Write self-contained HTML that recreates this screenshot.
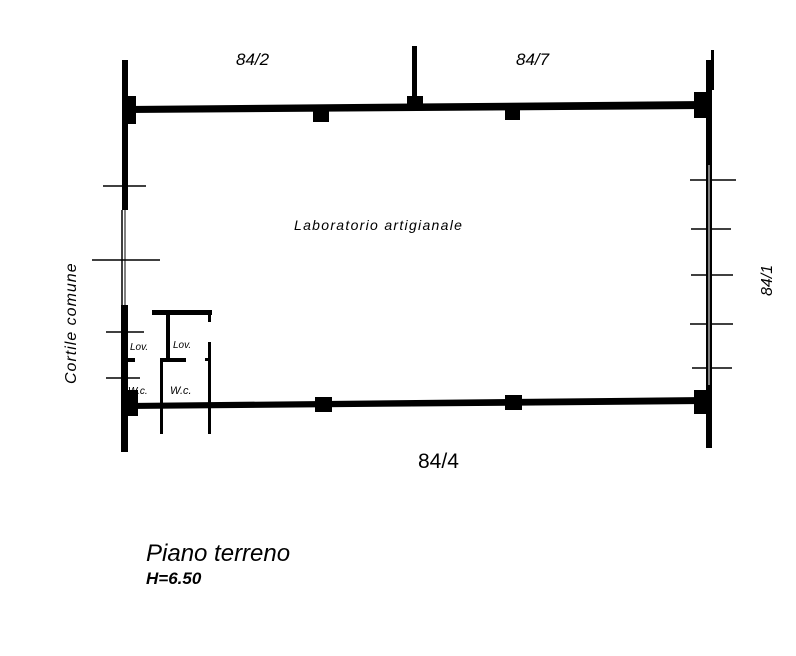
<!DOCTYPE html>
<html><head><meta charset="utf-8"><style>
html,body{margin:0;padding:0;background:#fff;width:796px;height:656px;overflow:hidden}
svg{display:block}
text{font-family:"Liberation Sans",sans-serif;fill:#000}
</style></head><body>
<svg width="796" height="656" viewBox="0 0 796 656" xmlns="http://www.w3.org/2000/svg">
<g fill="#000" stroke="none">
<polygon points="128,106 705,101 705,109 128,113"/>
<polygon points="128,403 705,397 705,404 128,409"/>
<rect x="122" y="60" width="6" height="150"/>
<rect x="121" y="305" width="7" height="147"/>
<rect x="124" y="96" width="12" height="28"/>
<rect x="124" y="390" width="14" height="26"/>
<rect x="706" y="60" width="6" height="388"/>
<rect x="694" y="92" width="16" height="26"/>
<rect x="694" y="390" width="16" height="24"/>
<rect x="711" y="50" width="3" height="40"/>
<rect x="412" y="46" width="5" height="60"/>
<rect x="407" y="96" width="16" height="14"/>
<rect x="313" y="108" width="16" height="14"/>
<rect x="505" y="106" width="15" height="14"/>
<rect x="315" y="397" width="17" height="15"/>
<rect x="505" y="395" width="17" height="15"/>
<rect x="152" y="310" width="60" height="5"/>
<rect x="166" y="312" width="4" height="48"/>
<rect x="160" y="358" width="26" height="4"/>
<rect x="160" y="358" width="3" height="76"/>
<rect x="208" y="342" width="3" height="92"/>
<rect x="208" y="312" width="3" height="10"/>
<rect x="205" y="358" width="6" height="3"/>
<rect x="121" y="358" width="14" height="4"/>
</g>
<g stroke="#000" stroke-width="1.5" fill="none">
<line x1="122" y1="210" x2="122" y2="305"/>
<line x1="125" y1="210" x2="125" y2="305" stroke-width="1"/>
<line x1="103" y1="186" x2="146" y2="186"/>
<line x1="92" y1="260" x2="160" y2="260"/>
<line x1="106" y1="332" x2="144" y2="332"/>
<line x1="106" y1="378" x2="140" y2="378"/>
<line x1="690" y1="180" x2="736" y2="180"/>
<line x1="691" y1="229" x2="731" y2="229"/>
<line x1="691" y1="275" x2="733" y2="275"/>
<line x1="690" y1="324" x2="733" y2="324"/>
<line x1="692" y1="368" x2="732" y2="368"/>
<line x1="709" y1="165" x2="709" y2="385" stroke="#fff" stroke-width="1"/>
</g>
<text x="236" y="65" font-size="17" font-style="italic">84/2</text>
<text x="516" y="65" font-size="17" font-style="italic">84/7</text>
<text x="294" y="230" font-size="14" font-style="italic" letter-spacing="1.3">Laboratorio artigianale</text>
<text x="418" y="468" font-size="21">84/4</text>
<text transform="translate(772,296) rotate(-90)" font-size="16" font-style="italic">84/1</text>
<text transform="translate(76,384) rotate(-90)" font-size="16" font-style="italic" letter-spacing="1">Cortile comune</text>
<text x="130" y="350" font-size="10" font-style="italic">Lov.</text>
<text x="173" y="348" font-size="10" font-style="italic">Lov.</text>
<text x="128" y="394" font-size="10" font-style="italic">W.c.</text>
<text x="170" y="394" font-size="11" font-style="italic">W.c.</text>
<text x="146" y="561" font-size="24" font-style="italic">Piano terreno</text>
<text x="146" y="584" font-size="17" font-weight="bold" font-style="italic">H=6.50</text>
</svg>
</body></html>
